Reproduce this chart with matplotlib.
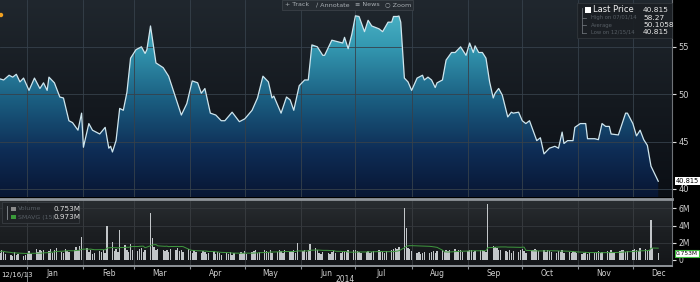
import matplotlib
matplotlib.use("Agg")
import numpy as np
import pandas as pd
import matplotlib.pyplot as plt
import matplotlib.dates as mdates
import matplotlib.transforms as mtransforms
from matplotlib.colors import LinearSegmentedColormap
from matplotlib.patches import Rectangle, Polygon, Circle

# ---------------- data ----------------
price_dates = [
    "2013-12-16", "2013-12-19", "2013-12-22", "2013-12-24", "2013-12-26", "2013-12-28",
    "2013-12-30", "2014-01-02", "2014-01-05", "2014-01-08", "2014-01-10", "2014-01-12",
    "2014-01-13", "2014-01-16", "2014-01-19", "2014-01-21", "2014-01-24", "2014-01-26",
    "2014-01-29", "2014-01-31", "2014-02-01", "2014-02-04", "2014-02-06", "2014-02-10",
    "2014-02-13", "2014-02-15", "2014-02-16", "2014-02-17", "2014-02-19", "2014-02-21",
    "2014-02-23", "2014-02-25", "2014-02-27", "2014-03-02", "2014-03-05", "2014-03-07",
    "2014-03-08", "2014-03-10", "2014-03-13", "2014-03-17", "2014-03-20", "2014-03-27",
    "2014-03-30", "2014-04-02", "2014-04-05", "2014-04-07", "2014-04-09", "2014-04-12",
    "2014-04-15", "2014-04-18", "2014-04-20", "2014-04-24", "2014-04-26", "2014-04-28",
    "2014-05-01", "2014-05-05", "2014-05-08", "2014-05-11", "2014-05-14", "2014-05-16",
    "2014-05-17", "2014-05-21", "2014-05-24", "2014-05-26", "2014-05-28", "2014-05-31",
    "2014-06-03", "2014-06-05", "2014-06-07", "2014-06-10", "2014-06-13", "2014-06-14",
    "2014-06-18", "2014-06-22", "2014-06-24", "2014-06-25", "2014-06-27", "2014-06-29",
    "2014-07-01", "2014-07-03", "2014-07-06", "2014-07-08", "2014-07-10", "2014-07-14",
    "2014-07-16", "2014-07-19", "2014-07-21", "2014-07-22", "2014-07-24", "2014-07-25",
    "2014-07-26", "2014-07-28", "2014-07-30", "2014-08-01", "2014-08-04", "2014-08-07",
    "2014-08-08", "2014-08-10", "2014-08-12", "2014-08-14", "2014-08-15", "2014-08-18",
    "2014-08-20", "2014-08-23", "2014-08-25", "2014-08-28", "2014-08-31", "2014-09-02",
    "2014-09-04", "2014-09-05", "2014-09-07", "2014-09-09", "2014-09-11", "2014-09-13",
    "2014-09-15", "2014-09-16", "2014-09-18", "2014-09-20", "2014-09-23", "2014-09-25",
    "2014-09-26", "2014-09-29", "2014-10-01", "2014-10-03", "2014-10-05", "2014-10-09",
    "2014-10-11", "2014-10-13", "2014-10-16", "2014-10-19", "2014-10-21", "2014-10-23",
    "2014-10-24", "2014-10-26", "2014-10-29", "2014-10-30", "2014-11-02", "2014-11-05",
    "2014-11-06", "2014-11-10", "2014-11-12", "2014-11-14", "2014-11-16", "2014-11-18",
    "2014-11-19", "2014-11-23", "2014-11-27", "2014-11-28", "2014-12-01", "2014-12-03",
    "2014-12-05", "2014-12-07", "2014-12-09", "2014-12-11", "2014-12-15",
]
price_values = [
    51.67, 51.5, 52.0, 51.8, 52.1, 51.3,
    51.7, 50.4, 51.7, 50.6, 51.2, 50.4,
    51.8, 51.2, 49.7, 49.6, 47.2, 47.0,
    46.2, 48.0, 44.4, 46.9, 46.2, 45.8,
    46.5, 44.3, 44.5, 43.9, 45.1, 48.5,
    48.3, 50.2, 53.8, 54.7, 55.0, 54.3,
    54.7, 57.2, 53.3, 52.8, 51.9, 47.8,
    49.0, 51.4, 51.2, 50.1, 50.6, 48.0,
    47.8, 47.2, 47.2, 48.1, 47.6, 47.1,
    47.4, 48.3, 49.6, 51.9, 51.3, 49.6,
    49.8, 48.0, 49.7, 49.4, 48.3, 50.9,
    51.5, 51.5, 55.2, 55.0, 54.1, 54.1,
    55.7, 55.5, 55.4, 56.0, 54.8, 56.3,
    58.27, 58.2, 56.6, 57.8, 57.2, 56.9,
    56.6, 57.6, 57.6, 58.2, 58.2, 58.25,
    57.6, 51.7, 51.3, 50.4, 51.7, 52.0,
    51.5, 51.8, 51.5, 50.7, 51.2, 51.5,
    53.6, 54.4, 54.4, 55.0, 54.1, 55.4,
    54.4, 55.1, 54.4, 54.4, 53.8, 51.3,
    49.6, 50.1, 50.6, 49.9, 47.6, 48.1,
    48.0, 48.1, 47.2, 46.9, 47.2, 45.1,
    45.4, 43.7, 44.3, 44.5, 44.3, 46.0,
    44.8, 45.1, 45.1, 46.5, 46.9, 46.9,
    45.3, 45.3, 45.2, 46.9, 46.6, 46.6,
    45.8, 45.7, 48.0, 48.0, 46.9, 45.6,
    46.2, 45.2, 44.6, 42.4, 40.815,
]

# daily volume in millions, one row per trading week starting Mon 2013-12-16
volume_weeks = [
    [1.1, 0.8, 1.2, 0.9, 0.7], [0.6, 0.5, 0.9, 0.6, 0.7], [0.5, 0.6, 0.8, 1.0, 0.7],
    [1.3, 0.9, 1.1, 1.0, 1.2], [1.0, 1.3, 0.8, 1.2, 1.4], [0.9, 0.8, 1.3, 1.0, 0.9],
    [1.2, 1.5, 1.1, 1.6, 2.65], [1.4, 0.9, 1.1, 0.7, 0.8], [1.0, 0.9, 1.2, 0.8, 4.0],
    [2.1, 1.0, 1.3, 0.9, 3.5], [1.7, 1.2, 0.9, 1.8, 1.1], [1.0, 1.3, 1.4, 0.9, 1.2],
    [5.5, 2.6, 1.5, 1.2, 1.3], [1.1, 1.0, 1.2, 0.9, 1.3], [1.1, 1.4, 1.0, 1.2, 0.9],
    [1.3, 1.0, 0.8, 1.1, 0.9], [0.8, 1.0, 0.9, 0.7, 0.8], [1.0, 0.7, 0.9, 0.8, 0.6],
    [0.8, 0.7, 0.9, 0.6, 0.8], [0.7, 0.9, 0.8, 1.0, 0.7], [0.9, 1.0, 1.1, 0.8, 0.9],
    [1.2, 1.0, 0.9, 1.1, 0.8], [0.9, 1.1, 1.0, 0.8, 1.2], [0.9, 1.0, 1.1, 0.8, 2.0],
    [1.0, 1.2, 0.9, 1.1, 1.9], [1.4, 1.1, 0.8, 0.7, 0.9], [0.8, 0.7, 0.9, 1.0, 0.8],
    [0.8, 0.9, 1.0, 0.9, 1.1], [1.1, 1.2, 1.0, 0.9, 0.8], [0.9, 1.0, 0.8, 0.9, 1.0],
    [1.1, 1.0, 0.9, 0.8, 1.0], [1.2, 1.3, 1.4, 1.3, 1.5], [6.0, 3.7, 1.4, 1.3, 1.0],
    [0.8, 0.9, 0.7, 0.8, 0.9], [0.8, 0.9, 1.0, 0.8, 1.0], [1.1, 0.9, 1.2, 1.0, 1.1],
    [1.3, 1.0, 1.1, 1.2, 0.9], [1.0, 1.2, 1.1, 0.9, 1.0], [1.1, 1.2, 1.0, 0.9, 6.5],
    [1.6, 1.5, 1.4, 1.2, 1.1], [1.0, 0.9, 1.1, 0.8, 1.0], [0.9, 1.1, 1.3, 1.0, 0.8],
    [1.2, 1.1, 1.3, 1.2, 1.0], [1.1, 0.9, 1.2, 1.0, 0.9], [0.8, 1.0, 0.9, 1.1, 0.8],
    [0.9, 0.8, 1.0, 0.9, 0.8], [0.7, 0.8, 0.9, 0.7, 0.8], [0.8, 0.9, 1.0, 0.8, 0.9],
    [1.0, 0.9, 1.1, 0.8, 0.9], [1.0, 1.1, 1.2, 0.9, 1.0], [1.1, 1.3, 1.2, 1.0, 1.4],
    [1.3, 1.2, 1.1, 4.6, 1.4], [0.753],
]

price_ticks = [40, 45, 50, 55]
volume_ticks = [0, 2, 4, 6]
volume_tick_labels = ["0", "2M", "4M", "6M"]

legend_rows = [("Last Price", "40.815"), ("High on 07/01/14", "58.27"),
               ("Average", "50.1058"), ("Low on 12/15/14", "40.815")]
vol_legend_rows = [("Volume", "0.753M"), ("SMAVG (15)", "0.973M")]
last_price = 40.815
last_volume = 0.753

# ---------------- figure ----------------
W, H = 700, 282
fig = plt.figure(figsize=(7, 2.82), dpi=100, facecolor="black")


def fy(py):
    return 1 - py / H


ax_p = fig.add_axes([0, fy(197), 672 / W, 197 / H])
ax_v = fig.add_axes([0, fy(266), 672 / W, (266 - 199) / H])

xs = mdates.date2num(pd.to_datetime(price_dates))
vals = np.array(price_values)

x0 = mdates.date2num(pd.Timestamp("2013-12-17"))
x1 = mdates.date2num(pd.Timestamp("2014-12-22 14:00"))
y0, y1 = 39.15, 59.94

ax_p.set_xlim(x0, x1)
ax_p.set_ylim(y0, y1)
ax_p.set_facecolor("#111418")

grad = np.linspace(0, 1, 256).reshape(-1, 1)
bg_cmap = LinearSegmentedColormap.from_list("bg", ["#0b0f15", "#151a20", "#20272e"])
ax_p.imshow(grad, extent=[x0, x1, y0, y1], aspect="auto", origin="lower",
            cmap=bg_cmap, zorder=0)

fill_cmap = LinearSegmentedColormap.from_list(
    "fill", [(0.0, "#081633"), (0.23, "#0e2c55"), (0.49, "#1a5d80"),
             (0.76, "#3397b0"), (1.0, "#52bccd")])
verts = [(xs[0], y0)] + list(zip(xs, vals)) + [(xs[-1], y0)]
poly = Polygon(verts, closed=True, facecolor="none", edgecolor="none",
               transform=ax_p.transData)
ax_p.add_patch(poly)
im = ax_p.imshow(grad, extent=[x0, x1, y0, y1], aspect="auto", origin="lower",
                 cmap=fill_cmap, zorder=1)
im.set_clip_path(poly)

month_starts = pd.date_range("2014-01-01", "2014-12-01", freq="MS")
for m in month_starts:
    ax_p.axvline(mdates.date2num(m), color="#36414b", lw=0.6, zorder=2)
    ax_v.axvline(mdates.date2num(m), color="#3a3e42", lw=0.6, zorder=1)
for t in price_ticks:
    ax_p.axhline(t, color="#36414b", lw=0.6, zorder=2)

ax_p.plot(xs, vals, color="#cfe6ee", lw=0.9, zorder=3)

ax_p.yaxis.tick_right()
ax_p.set_yticks(price_ticks)
ax_p.tick_params(axis="y", direction="out", length=3, width=0.8, color="#dddddd",
                 labelcolor="#d0d0d0", labelsize=6, pad=1.5)
ax_p.set_xticks([])
for s in ["top", "left", "bottom"]:
    ax_p.spines[s].set_visible(False)
ax_p.spines["right"].set_color("#6f7378")
ax_p.spines["right"].set_linewidth(0.8)

blend_p = mtransforms.blended_transform_factory(ax_p.transAxes, ax_p.transData)
ax_p.text(1.006, last_price, f"{last_price:.3f}", transform=blend_p, ha="left",
          va="center", fontsize=4.8, color="black",
          bbox=dict(boxstyle="square,pad=0.15", fc="white", ec="none"))

# ---------------- volume ----------------
vol = np.concatenate([np.array(w, dtype=float) for w in volume_weeks])
bdays = pd.bdate_range("2013-12-16", "2014-12-15")
n = min(len(bdays), len(vol))
bdays = bdays[:n]
vol = vol[:n]
smavg = pd.Series(vol).rolling(15, min_periods=1).mean().values

ax_v.set_xlim(x0, x1)
ax_v.set_ylim(-0.70, 7.08)
vbg_cmap = LinearSegmentedColormap.from_list("vbg", ["#141619", "#1c1f22", "#2a2e32"])
ax_v.imshow(grad, extent=[x0, x1, -0.70, 7.08], aspect="auto", origin="lower",
            cmap=vbg_cmap, zorder=0)
for t in volume_ticks[1:]:
    ax_v.axhline(t, color="#34383c", lw=0.6, zorder=1)
ax_v.bar(mdates.date2num(bdays), vol, width=0.75, color="#c2c6c9", zorder=3)
ax_v.plot(mdates.date2num(bdays), smavg, color="#3f9a3f", lw=0.7, zorder=4)

ax_v.yaxis.tick_right()
ax_v.set_yticks(volume_ticks)
ax_v.set_yticklabels(volume_tick_labels)
ax_v.tick_params(axis="y", direction="out", length=3, width=0.8, color="#dddddd",
                 labelcolor="#d0d0d0", labelsize=5.5, pad=1.5)
ax_v.xaxis.set_major_locator(mdates.MonthLocator())
ax_v.xaxis.set_major_formatter(plt.NullFormatter())
ax_v.xaxis.set_minor_locator(mdates.MonthLocator(bymonthday=15))
ax_v.xaxis.set_minor_formatter(mdates.DateFormatter("%b"))
ax_v.tick_params(axis="x", which="major", direction="out", length=2.5, width=0.8,
                 color="#8a8f94")
ax_v.tick_params(axis="x", which="minor", length=0, labelsize=5.5,
                 labelcolor="#d0d0d0", pad=2.5)
ax_v.spines["left"].set_visible(False)
ax_v.spines["top"].set_color("#8f9499")
ax_v.spines["top"].set_linewidth(2.0)
ax_v.spines["bottom"].set_color("#8f9499")
ax_v.spines["bottom"].set_linewidth(1.4)
ax_v.spines["right"].set_color("#6f7378")
ax_v.spines["right"].set_linewidth(0.8)

blend_v = mtransforms.blended_transform_factory(ax_v.transAxes, ax_v.transData)
ax_v.text(1.006, last_volume, f"{last_volume:.3f}M", transform=blend_v, ha="left",
          va="center", fontsize=4.2, color="#111111",
          bbox=dict(boxstyle="square,pad=0.15", fc="white", ec="#3fbf3f", lw=0.8))

# ---------------- overlay decorations (pixel coords) ----------------
ov = fig.add_axes([0, 0, 1, 1], zorder=10)
ov.set_xlim(0, W)
ov.set_ylim(H, 0)
ov.axis("off")
ov.patch.set_alpha(0)

# toolbar
ov.add_patch(Rectangle((282, 0), 131, 9.5, fc="#262c32", ec="#3b4147", lw=0.6))
for xt, label in [(285, "+ Track"), (316, "∕ Annotate"), (355, "≡ News"), (385, "○ Zoom")]:
    ov.text(xt, 4.9, label, fontsize=4.6, color="#a8aeb3", va="center", ha="left")

# price legend
ov.add_patch(Rectangle((577, 3), 95, 35, fc="#1b1f24", ec="#33383d", lw=0.6, alpha=0.93))
ov.plot([582, 582], [8, 33], color="#6a7076", lw=0.6)
ov.add_patch(Rectangle((585, 7.3), 5.5, 5.5, fc="white", ec="none"))
for i, (lab, val) in enumerate(legend_rows):
    yy = 10 + i * 7.5
    if i == 0:
        ov.text(593, yy, lab, fontsize=6.0, color="#f0f0f0", va="center")
    else:
        ov.plot([582, 586], [yy, yy], color="#6a7076", lw=0.6)
        ov.text(591, yy, lab, fontsize=3.8, color="#575e65", va="center")
    ov.text(643, yy, val, fontsize=5.4, color="#e6e6e6", va="center")

# volume legend
ov.add_patch(Rectangle((2, 202), 77, 21, fc="#1f2226", ec="#3a3f44", lw=0.6, alpha=0.93))
ov.plot([7, 7], [206, 219], color="#8a8f94", lw=0.6)
for i, ((lab, val), col) in enumerate(zip(vol_legend_rows, ["#8a8a8a", "#3a9a3a"])):
    yy = 209 + i * 8
    ov.add_patch(Rectangle((11, yy - 2.3), 4.6, 4.6, fc=col, ec="none"))
    ov.text(18, yy, lab, fontsize=4.5, color="#555c63", va="center")
    ov.text(54, yy, val, fontsize=5.2, color="#e0e0e0", va="center")

# orange marker top-left
ov.add_patch(Circle((1, 15), 2.2, fc="#f0a020", ec="none"))

# bottom date strip
ov.text(345, 279, "2014", fontsize=5.5, color="#d0d0d0", ha="center", va="center")
ov.plot([27, 27], [272, 282], color="#7a7f84", lw=0.7)
ov.text(1, 275.5, "12/16/13", fontsize=5.0, color="#e0e0e0", ha="left", va="center")

fig.savefig("out.png", dpi=100, facecolor="black")
